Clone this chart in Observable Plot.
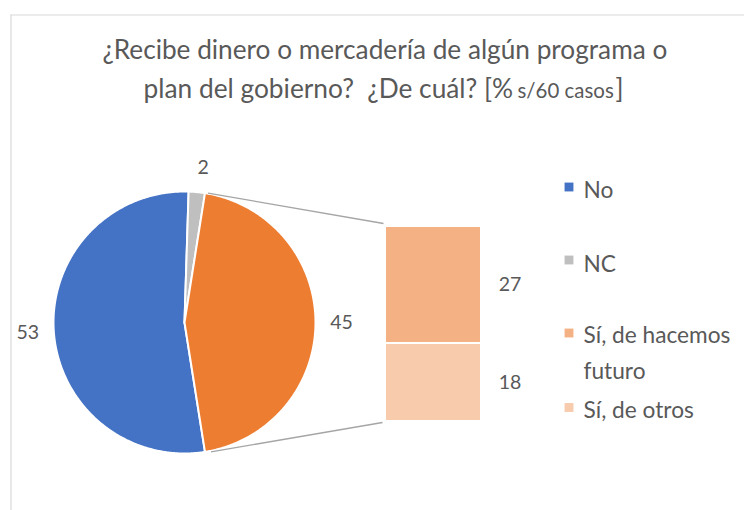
<!DOCTYPE html>
<html>
<head>
<meta charset="utf-8">
<script src="https://cdn.jsdelivr.net/npm/d3@7"></script>
<script src="https://cdn.jsdelivr.net/npm/@observablehq/plot@0.6"></script>
<style>
  body { margin: 0; background: #fff; }
  #chart { width: 744px; height: 510px; overflow: hidden; }
</style>
</head>
<body>
<div id="chart"></div>
<script>
// ---------- data ----------
const pieCategories = ["No", "NC", "Sí"];
const pieValues = [53, 2, 45];
const pieColors = ["#4472C4", "#BFBFBF", "#ED7D31"];
const barCategories = ["Sí, de hacemos futuro", "Sí, de otros"];
const barValues = [27, 18];
const barColors = ["#F4B183", "#F8CBAD"];
const legendLabels = ["No", "NC", "Sí, de hacemos\nfuturo", "Sí, de otros"];
const legendColors = ["#4472C4", "#BFBFBF", "#F4B183", "#F8CBAD"];
const titleLine1 = "¿Recibe dinero o mercadería de algún programa o";
const titleLine2 = "plan del gobierno?  ¿De cuál? [%";
const titleSmall = "s/60 casos";
const titleEnd = "]";

// ---------- layout ----------
const W = 744, H = 510;
const FONT = "Lato";
const TEXT = "#595959";
const cx = 184, cy = 322, R = 131;                 // pie
const bx0 = 385, bx1 = 481, by0 = 226, by1 = 421;  // bar of pie
const labelGap = 26;
const legendX = 568.5, legendTextX = 583;
const legendMarkY = [186.5, 259.5, 332.5, 407];
const legendTextY = [186, 259.5, 349, 405.5];

const ctx = document.createElement("canvas").getContext("2d");
function measure(text, size, family = FONT) {
  ctx.font = `${size}px ${family}`;
  return ctx.measureText(text).width;
}
function fitSize(text, target) { return 100 * target / measure(text, 100); }
const keepSpaces = s => s.replace(/ {2}/g, " \u00A0");

const titleSize = fitSize(titleLine1, 565);
const legendSize = fitSize("Sí, de hacemos", 147);
const labelSize = 19.5;

// ---------- pie geometry ----------
const total = d3.sum(pieValues);
const otherSpan = pieValues[2] / total * 2 * Math.PI;
const start = Math.PI / 2 + otherSpan / 2;
const arcs = d3.pie().sort(null).startAngle(start).endAngle(start + 2 * Math.PI)(pieValues);
const pt = (a, r) => ({x: cx + r * Math.sin(a), y: cy - r * Math.cos(a)});

const slicePts = [];
arcs.forEach((a, i) => {
  slicePts.push({x: cx, y: cy, cat: pieCategories[i], color: pieColors[i]});
  const n = Math.max(4, Math.ceil((a.endAngle - a.startAngle) / (Math.PI / 360)));
  for (let k = 0; k <= n; k++) {
    const t = a.startAngle + (a.endAngle - a.startAngle) * k / n;
    slicePts.push({...pt(t, R), cat: pieCategories[i], color: pieColors[i]});
  }
});

const pieLabels = arcs.map((a, i) => {
  const m = (a.startAngle + a.endAngle) / 2;
  const p = pt(m, R + labelGap);
  return {x: p.x + (i === 1 ? 4 : 0), y: p.y + (i === 1 ? 2 : 0), text: String(pieValues[i])};
});

// ---------- bar geometry ----------
const barY = d3.scaleLinear([0, d3.sum(barValues)], [by0, by1]);
let acc = 0;
const barRows = barValues.map((v, i) => {
  const r = {x1: bx0, x2: bx1, y1: barY(acc), y2: barY(acc + v), color: barColors[i], cat: barCategories[i]};
  acc += v;
  return r;
});
const barLabels = barRows.map((r, i) => ({x: bx1 + 28.5, y: (r.y1 + r.y2) / 2, text: String(barValues[i])}));

const other = arcs[2];
const p0 = pt(other.startAngle, R), p1 = pt(other.endAngle, R);
const links = [
  {x1: p0.x + 3, y1: p0.y, x2: bx0 - 2, y2: by0 - 3},
  {x1: p1.x + 6, y1: p1.y, x2: bx0 - 3, y2: by1 + 1}
];

const legendRows = legendLabels.map((l, i) => ({
  label: l, color: legendColors[i], mx: legendX, my: legendMarkY[i], tx: legendTextX, ty: legendTextY[i]
}));

// ---------- title ----------
const line2Text = keepSpaces(titleLine2);
const line2Size = fitSize(line2Text, 370);
const smallSize = titleSize * 0.78;
const smallW = 93;
const smallSpacing = (smallW - measure(titleSmall, smallSize)) / (titleSmall.length - 1);
const titleRows = [
  {x: 102, y: 58 - 0.32 * titleSize, text: titleLine1},
  {x: 615, y: 97 - 0.32 * titleSize, text: titleEnd}
];
const line2Rows = [{x: 143, y: 97 - 0.32 * line2Size, text: line2Text}];
const smallRows = [{x: 517, y: 97 - 0.32 * smallSize, text: titleSmall}];

const chart = Plot.plot({
  width: W, height: H, margin: 0,
  x: {domain: [0, W], range: [0, W], axis: null},
  y: {domain: [0, H], range: [0, H], axis: null},
  color: {type: "identity"},
  style: {fontFamily: FONT, background: "white", overflow: "visible"},
  marks: [
    Plot.ruleX([10.5], {y1: 14.5, y2: H, stroke: "#D9D9D9", strokeWidth: 1.2}),
    Plot.ruleY([14.5], {x1: 10.5, x2: W, stroke: "#D9D9D9", strokeWidth: 1.2}),
    Plot.text(titleRows, {x: "x", y: "y", text: "text", textAnchor: "start", fontSize: titleSize, fill: TEXT}),
    Plot.text(line2Rows, {x: "x", y: "y", text: "text", textAnchor: "start", fontSize: line2Size, fill: TEXT}),
    Plot.text(smallRows, {x: "x", y: "y", text: "text", textAnchor: "start", fontSize: smallSize, fill: TEXT, letterSpacing: smallSpacing}),
    Plot.line(slicePts, {x: "x", y: "y", z: "cat", fill: "color", stroke: "white", strokeWidth: 2, curve: "linear-closed"}),
    Plot.link(links, {x1: "x1", y1: "y1", x2: "x2", y2: "y2", stroke: "#A5A5A5", strokeWidth: 1.3}),
    Plot.rect(barRows, {x1: "x1", x2: "x2", y1: "y1", y2: "y2", fill: "color", stroke: "white", strokeWidth: 2}),
    Plot.text(pieLabels, {x: "x", y: "y", text: "text", fontSize: labelSize, fill: TEXT}),
    Plot.text(barLabels, {x: "x", y: "y", text: "text", fontSize: labelSize, fill: TEXT}),
    Plot.dot(legendRows, {x: "mx", y: "my", symbol: "square", r: 5, fill: "color", stroke: null}),
    Plot.text(legendRows, {x: "tx", y: "ty", text: "label", textAnchor: "start", fontSize: legendSize, lineHeight: 1.6, fill: TEXT})
  ]
});
document.getElementById("chart").appendChild(chart);
</script>
</body>
</html>
